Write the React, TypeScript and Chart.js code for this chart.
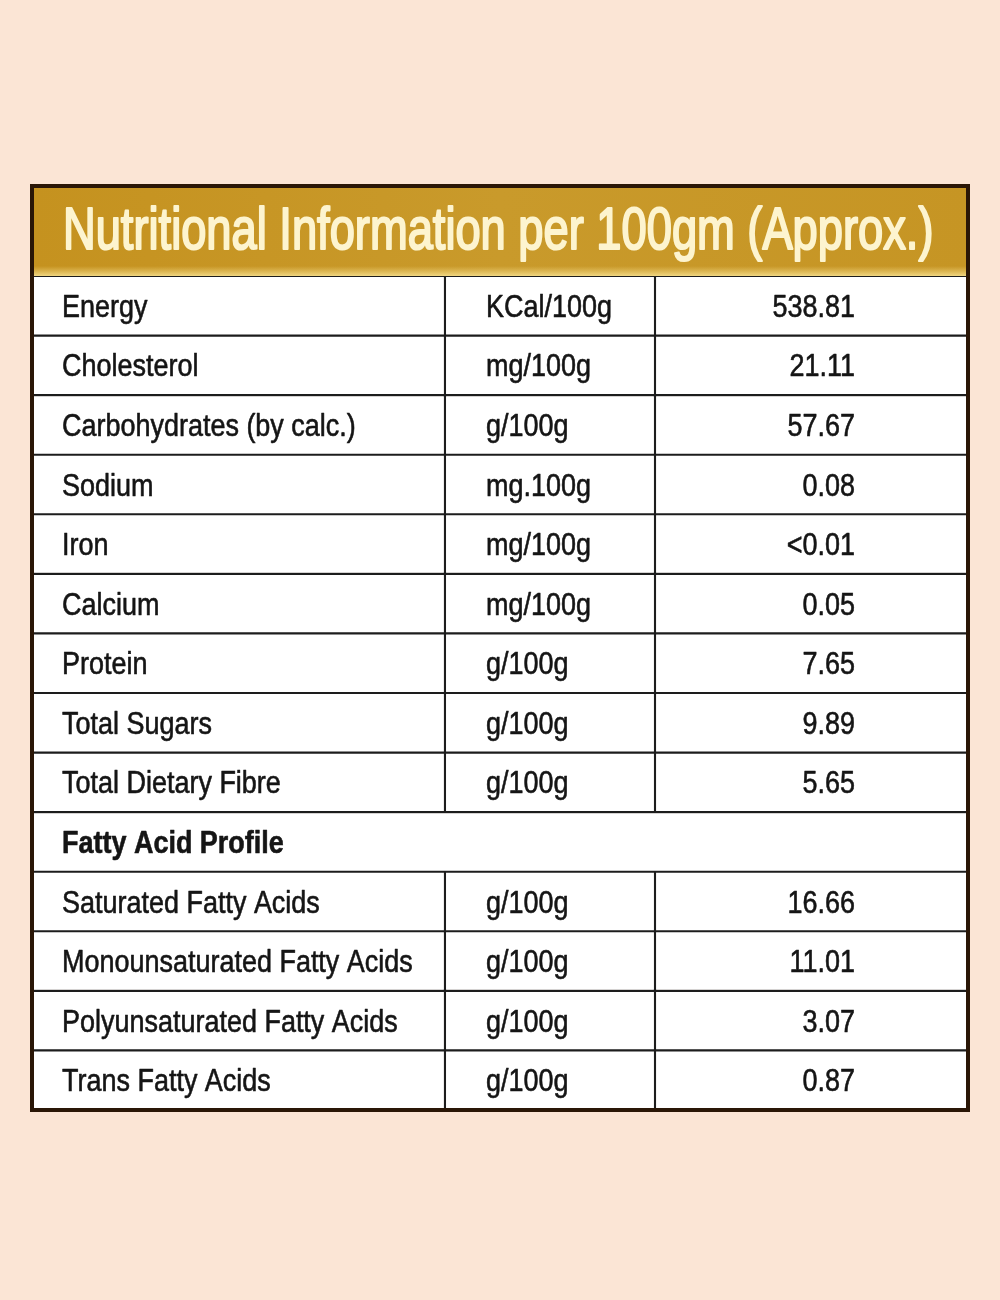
import React, { useEffect, useRef } from "react";
import { Chart, registerables } from "chart.js";
Chart.register(...registerables);

const TITLE = "Nutritional Information per 100gm (Approx.)";
const nutrients = [
  "Energy",
  "Cholesterol",
  "Carbohydrates (by calc.)",
  "Sodium",
  "Iron",
  "Calcium",
  "Protein",
  "Total Sugars",
  "Total Dietary Fibre",
  "Fatty Acid Profile",
  "Saturated Fatty Acids",
  "Monounsaturated Fatty Acids",
  "Polyunsaturated Fatty Acids",
  "Trans Fatty Acids",
];
const units = [
  "KCal/100g",
  "mg/100g",
  "g/100g",
  "mg.100g",
  "mg/100g",
  "mg/100g",
  "g/100g",
  "g/100g",
  "g/100g",
  "",
  "g/100g",
  "g/100g",
  "g/100g",
  "g/100g",
];
const values = [
  "538.81",
  "21.11",
  "57.67",
  "0.08",
  "<0.01",
  "0.05",
  "7.65",
  "9.89",
  "5.65",
  "",
  "16.66",
  "11.01",
  "3.07",
  "0.87",
];
const sectionRows = ["Fatty Acid Profile"];

// layout (column edges as fraction of table width)
const COL_EDGES = [0, 0.4412, 0.6656, 1];
const PAGE_BG = "#fbe5d5";
const FONT = "'Liberation Sans', Arial, sans-serif";

function drawText(
  ctx: CanvasRenderingContext2D,
  text: string,
  x: number,
  y: number,
  font: string,
  color: string,
  align: CanvasTextAlign,
  sx: number,
  stroke: number
) {
  ctx.save();
  ctx.font = font;
  ctx.fillStyle = color;
  ctx.strokeStyle = color;
  ctx.lineJoin = "round";
  ctx.textAlign = align;
  ctx.textBaseline = "alphabetic";
  ctx.translate(x, y);
  ctx.scale(sx, 1);
  ctx.fillText(text, 0, 0);
  if (stroke > 0) {
    ctx.lineWidth = stroke;
    ctx.strokeText(text, 0, 0);
  }
  ctx.restore();
}

export default function App() {
  const ref = useRef<HTMLCanvasElement>(null);
  useEffect(() => {
    if (!ref.current) return;
    const isSection = (i: number) => sectionRows.includes(nutrients[i]);
    const datasets = [0, 1, 2].map((c) => ({
      label: ["Nutrient", "Unit", "Value"][c],
      data: nutrients.map((_, i) =>
        isSection(i) ? (c === 0 ? [COL_EDGES[0], COL_EDGES[3]] : null) : [COL_EDGES[c], COL_EDGES[c + 1]]
      ),
      backgroundColor: "#ffffff",
      borderColor: "#1d1d1d",
      borderWidth: 1.4,
      borderSkipped: false,
      categoryPercentage: 1,
      barPercentage: 1,
    }));

    const HEADER_H = 90;
    const plugin = {
      id: "tablePlugin",
      beforeDraw(chart: any) {
        const { ctx, chartArea: a } = chart;
        ctx.save();
        ctx.fillStyle = PAGE_BG;
        ctx.fillRect(0, 0, chart.width, chart.height);
        const g = ctx.createLinearGradient(a.left, 0, a.right, 0);
        g.addColorStop(0, "#c5921f");
        g.addColorStop(0.5, "#c99a2b");
        g.addColorStop(1, "#c69524");
        ctx.fillStyle = g;
        ctx.fillRect(a.left, a.top - HEADER_H, a.right - a.left, HEADER_H);
        // lighter band at the bottom of the header
        const g2 = ctx.createLinearGradient(0, a.top - 10, 0, a.top);
        g2.addColorStop(0, "rgba(240,210,120,0)");
        g2.addColorStop(1, "rgba(245,222,140,0.9)");
        ctx.fillStyle = g2;
        ctx.fillRect(a.left, a.top - 10, a.right - a.left, 10);
        ctx.restore();
        // title
        ctx.save();
        const tf = `60px ${FONT}`;
        ctx.font = tf;
        const w = ctx.measureText(TITLE).width;
        const target = (a.right - a.left) * 0.93;
        ctx.restore();
        drawText(ctx, TITLE, a.left + 31, a.top - 27, tf, "#fdf4cf", "left", target / w, 2.2);
      },
      afterDatasetsDraw(chart: any) {
        const { ctx, chartArea: a } = chart;
        const m0 = chart.getDatasetMeta(0).data;
        const m1 = chart.getDatasetMeta(1).data;
        const m2 = chart.getDatasetMeta(2).data;
        const SX = 0.87;
        const f = `31px ${FONT}`;
        const fb = `bold 31px ${FONT}`;
        const col = "#151515";
        nutrients.forEach((name, i) => {
          const e0 = m0[i];
          const y = e0.y + 11;
          const left0 = Math.min(e0.x, e0.base);
          drawText(ctx, name, left0 + 30, y, isSection(i) ? fb : f, col, "left", SX, 0.6);
          if (!isSection(i)) {
            const e1 = m1[i];
            const left1 = Math.min(e1.x, e1.base);
            drawText(ctx, units[i], left1 + 41, y, f, col, "left", SX, 0.6);
            const e2 = m2[i];
            const right2 = Math.max(e2.x, e2.base);
            drawText(ctx, values[i], right2 - 113, y, f, col, "right", SX, 0.6);
          }
        });
        // outer border
        ctx.save();
        ctx.strokeStyle = "#2a1606";
        ctx.lineWidth = 4;
        ctx.strokeRect(a.left, a.top - HEADER_H, a.right - a.left, a.bottom - a.top + HEADER_H);
        ctx.restore();
      },
    };

    const chart = new Chart(ref.current, {
      type: "bar",
      data: { labels: nutrients, datasets: datasets as any },
      options: {
        animation: false,
        responsive: false,
        indexAxis: "y",
        layout: { padding: { left: 32, right: 32, top: 276, bottom: 190 } },
        plugins: { legend: { display: false }, tooltip: { enabled: false }, title: { display: false } },
        scales: {
          x: { type: "linear", min: 0, max: 1, display: false, stacked: false },
          y: { type: "category", display: false, stacked: true, offset: true },
        },
      } as any,
      plugins: [plugin],
    });
    return () => chart.destroy();
  }, []);

  return (
    <div style={{ position: "absolute", left: 0, top: 0, width: 1000, height: 1300, background: PAGE_BG }}>
      <canvas ref={ref} width={1000} height={1300} style={{ display: "block" }} />
    </div>
  );
}
